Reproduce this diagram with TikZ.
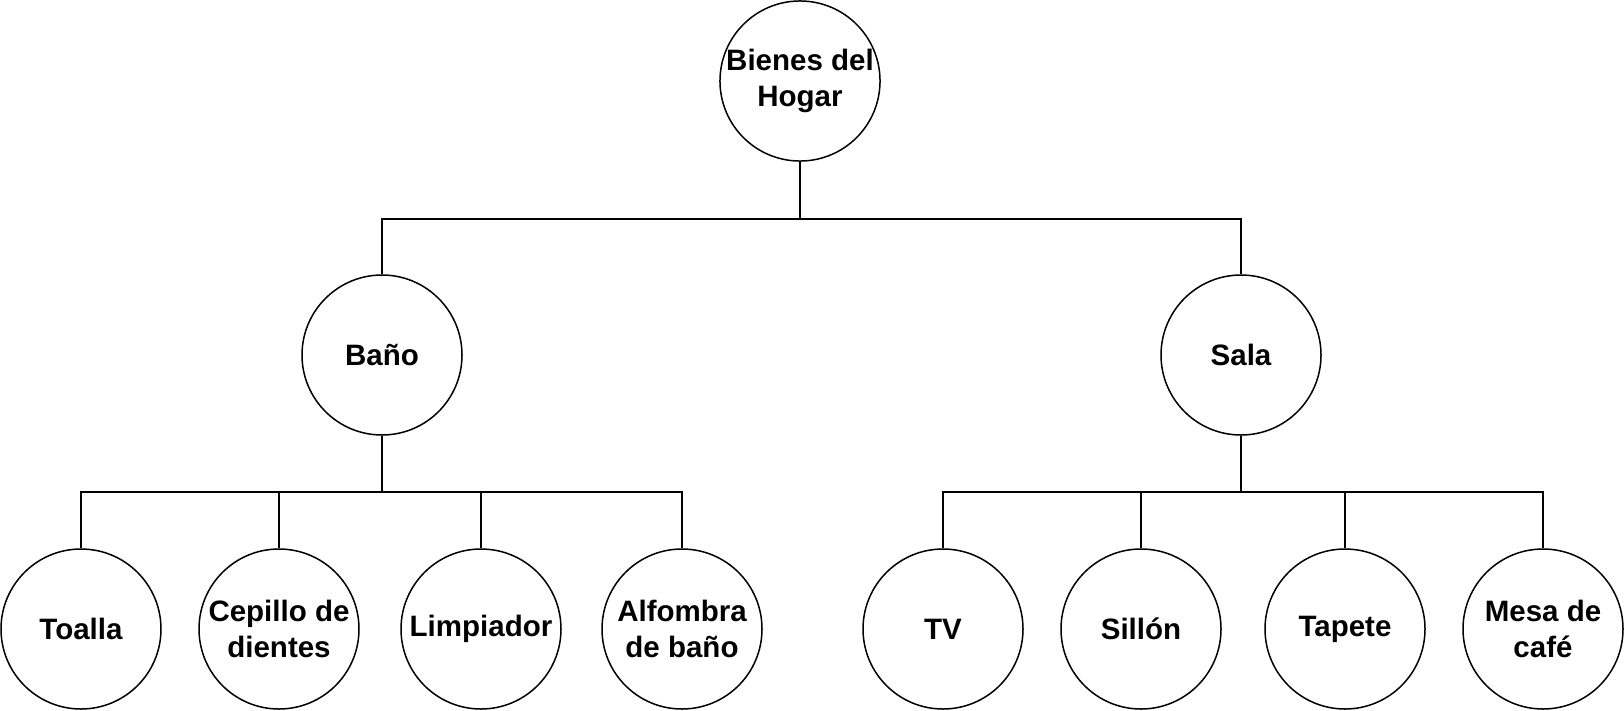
\documentclass[tikz,border=0pt]{standalone}
\usepackage{fontspec}
\setmainfont{Liberation Sans}
\begin{document}
\begin{tikzpicture}[x=1pt,y=-1pt,
  circ/.style={draw, circle, line width=1.5pt, minimum size=160pt, inner sep=0pt,
    align=center, font=\bfseries\fontsize{29.5}{35.5}\selectfont},
  conn/.style={line width=1.5pt}]
\useasboundingbox (0,0) rectangle (1624,710);
\node[circ] (root) at (800,81) {Bienes del\\Hogar};
\node[circ] (bano) at (382,355) {Baño};
\node[circ] (sala) at (1241,355) {Sala};
\node[circ] (toalla) at (81,629) {Toalla};
\node[circ] (cepillo) at (279,629) {Cepillo de\\dientes};
\node[circ] (limp) at (481,629) {Limpiador};
\node[circ] (alf) at (682,629) {Alfombra\\de baño};
\node[circ] (tv) at (943,629) {TV};
\node[circ] (sillon) at (1141,629) {Sillón};
\node[circ] (tapete) at (1345,629) {Tapete};
\node[circ] (mesa) at (1543,629) {Mesa de\\café};
\coordinate (j1) at (800,219);
\coordinate (j2) at (382,492);
\coordinate (j3) at (1241,492);
\draw[conn] (root.south) -- (j1);
\draw[conn] (bano.north) |- (j1) -| (sala.north);
\draw[conn] (bano.south) -- (j2);
\draw[conn] (toalla.north) |- (j2) -| (alf.north);
\draw[conn] (cepillo.north) -- (cepillo.north |- j2);
\draw[conn] (limp.north) -- (limp.north |- j2);
\draw[conn] (sala.south) -- (j3);
\draw[conn] (tv.north) |- (j3) -| (mesa.north);
\draw[conn] (sillon.north) -- (sillon.north |- j3);
\draw[conn] (tapete.north) -- (tapete.north |- j3);
\end{tikzpicture}
\end{document}
